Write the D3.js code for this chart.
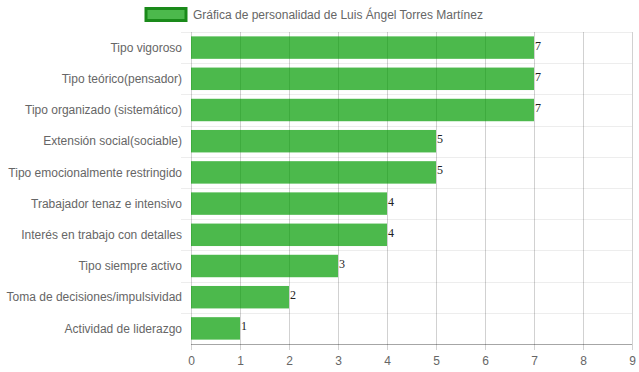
<!DOCTYPE html>
<html><head><meta charset="utf-8">
<script src="https://cdn.jsdelivr.net/npm/d3@7"></script>
<style>body{margin:0;background:#fff}svg{display:block}</style>
</head><body>
<script>
const categories = ["Tipo vigoroso","Tipo teórico(pensador)","Tipo organizado (sistemático)","Extensión social(sociable)","Tipo emocionalmente restringido","Trabajador tenaz e intensivo","Interés en trabajo con detalles","Tipo siempre activo","Toma de decisiones/impulsividad","Actividad de liderazgo"];
const values = [7,7,7,5,5,4,4,3,2,1];
const xTicks = [0,1,2,3,4,5,6,7,8,9];
const seriesName = "Gráfica de personalidad de Luis Ángel Torres Martínez";

const W=639,H=372;
const m={left:191,right:7,top:32,bottom:28};
const svg=d3.select("body").append("svg").attr("width",W).attr("height",H);
const x=d3.scaleLinear().domain([0,9]).range([m.left,W-m.right]);
const y=d3.scaleBand().domain(categories).range([m.top,H-m.bottom]).paddingInner(0).paddingOuter(0);
const font="Helvetica, Arial, 'Liberation Sans', sans-serif";

// horizontal grid lines (band boundaries)
const bounds=d3.range(categories.length+1).map(i=>m.top+i*y.step());
svg.append("g").selectAll("line").data(bounds.slice(0,-1)).join("line")
  .attr("x1",m.left-10).attr("x2",W-m.right).attr("y1",d=>Math.round(d)+0.5).attr("y2",d=>Math.round(d)+0.5)
  .attr("stroke","rgba(0,0,0,0.07)");
// vertical grid
svg.append("g").selectAll("line").data(xTicks).join("line")
  .attr("x1",d=>Math.round(x(d))+0.5).attr("x2",d=>Math.round(x(d))+0.5)
  .attr("y1",m.top).attr("y2",H-m.bottom+6)
  .attr("stroke","rgba(0,0,0,0.18)");
// bottom axis
const xa=svg.append("g").attr("transform",`translate(0,${H-m.bottom})`)
  .call(d3.axisBottom(x).tickValues(xTicks).tickSize(0).tickPadding(12));
xa.select(".domain").attr("stroke","rgba(0,0,0,0.35)").attr("d",`M${m.left},0.5H${W-m.right}`);
xa.selectAll("text").attr("fill","#666").style("font-family",font).style("font-size","12px");

// y labels
svg.append("g").selectAll("text").data(categories).join("text")
  .attr("x",m.left-9).attr("y",d=>y(d)+y.bandwidth()/2).attr("dy","0.35em")
  .attr("text-anchor","end").attr("fill","#666").style("font-family",font).style("font-size","12px")
  .text(d=>d);

// bars
const bh=y.bandwidth()*0.72;
svg.append("g").selectAll("rect").data(values).join("rect")
  .attr("x",x(0)).attr("y",(d,i)=>y(categories[i])+(y.bandwidth()-bh)/2)
  .attr("width",d=>x(d)-x(0)).attr("height",bh)
  .attr("fill","rgb(0,155,0)").attr("fill-opacity",0.7);

// value labels
svg.append("g").selectAll("text").data(values).join("text")
  .attr("x",d=>x(d)+1).attr("y",(d,i)=>y(categories[i])+y.bandwidth()/2+2)
  .attr("fill","#222").style("font-family","'Liberation Serif','Times New Roman',serif").style("font-size","12px")
  .text(d=>d);

// legend
const lg=svg.append("g");
lg.append("rect").attr("x",146).attr("y",8.5).attr("width",40).attr("height",12)
  .attr("fill","rgb(0,155,0)").attr("fill-opacity",0.7).attr("stroke","#1a8a1a").attr("stroke-width",3);
lg.append("text").attr("x",193).attr("y",19).attr("fill","#666").style("font-family",font).style("font-size","12px").text(seriesName);
</script>
</body></html>
